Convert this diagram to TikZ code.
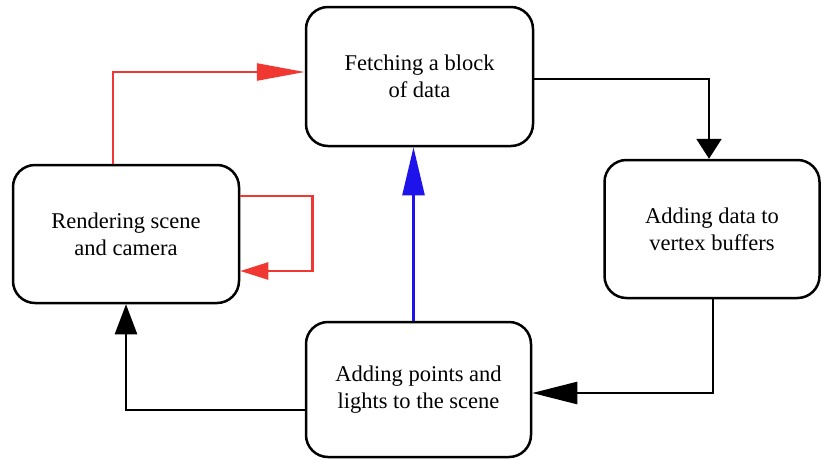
\documentclass[tikz,border=0pt]{standalone}
\usepackage{fontspec}
\setmainfont{Liberation Serif}
\usepackage{xcolor}
\usetikzlibrary{arrows.meta,positioning}
\definecolor{loopred}{RGB}{240,55,50}
\definecolor{flowblue}{RGB}{30,20,235}

\begin{document}
\begin{tikzpicture}[x=1pt,y=-1pt,
                    stage/.style={draw, line width=2.5pt, rounded corners=22pt, align=center,
                                  inner sep=0pt, font=\fontsize{22.5}{27}\selectfont},
                    flow/.style={line width=2.5pt, black},
                    redflow/.style={line width=2.5pt, loopred},
                    blueflow/.style={line width=2.5pt, flowblue},
                    arrowhead/.style={-{Triangle[length=#1,width=22pt]}},
                   ]

\useasboundingbox (0,0) rectangle (821,459);

\node[stage, minimum width=227pt, minimum height=139pt] (fetch)  at (419.5,76.5) {Fetching a block\\of data};
\node[stage, minimum width=215pt, minimum height=138pt] (buffer) at (712,229)    {Adding data to\\vertex buffers};
\node[stage, minimum width=225pt, minimum height=135pt] (scene)  at (418.5,389.5) {Adding points and\\lights to the scene};
\node[stage, minimum width=226pt, minimum height=138pt] (render) at (126,234)    {Rendering scene\\and camera};

\draw[flow, -{Triangle[length=20pt,width=25pt]}] ([yshift=-2.5pt]fetch.east) -| ([xshift=-3pt]buffer.north);
\draw[flow, arrowhead=45pt] ([xshift=1pt]buffer.south) |- ([yshift=-3.5pt]scene.east);
\draw[flow, arrowhead=30pt] ([yshift=-20.5pt]scene.west) -| (render.south);
\draw[blueflow, arrowhead=48pt] ([xshift=-5pt]scene.north) -- ([xshift=-5pt]scene.north |- fetch.south);

\draw[redflow, -{Triangle[length=48pt,width=17pt]}] ([xshift=-13pt]render.north) |- ([yshift=4.5pt]fetch.west);
\draw[redflow, -{Triangle[length=28pt,width=17pt]}] ([yshift=38pt]render.east) -- ++(72,0) |- ([yshift=-37pt]render.east);

\end{tikzpicture}
\end{document}
